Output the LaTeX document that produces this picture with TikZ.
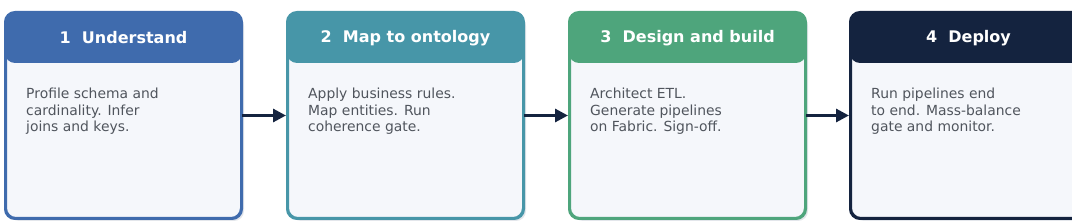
\documentclass[tikz,border=0pt]{standalone}
\usepackage{fontspec}
\setmainfont{DejaVu Sans}
\usetikzlibrary{arrows.meta,calc}
\definecolor{cA}{HTML}{3F6BAD}
\definecolor{cB}{HTML}{4796A8}
\definecolor{cC}{HTML}{4EA57C}
\definecolor{cD}{HTML}{14233F}
\definecolor{bodyfill}{HTML}{F5F7FB}
\definecolor{bodytext}{HTML}{50555D}
\definecolor{shadowc}{HTML}{E3E6EB}
\tikzset{
  stagebox/.style={draw=#1, line width=2pt, fill=bodyfill, rounded corners=10pt,
    minimum width=235pt, minimum height=205pt, inner sep=0pt},
  stagetitle/.style={text=white, font=\fontsize{16}{19}\selectfont\bfseries},
  stagebody/.style={text=bodytext, font=\fontsize{13.9}{16.5}\selectfont, align=left, anchor=north west, inner sep=0pt},
  flow/.style={draw=cD, line width=3pt, -{Triangle[length=13pt,width=13pt]}, shorten >=1pt}
}
\newcommand{\stage}[5]{%
  % #1 name, #2 x-left, #3 colour, #4 title, #5 body
  \fill[shadowc, rounded corners=10pt] (#2+4,16) rectangle (#2+239,221);
  \node[stagebox=#3, anchor=north west] (#1) at (#2,12) {};
  \fill[#3, rounded corners=10pt] (#1.north west) rectangle ($(#1.north east)+(0,51)$);
  \draw[#3, line width=2pt, rounded corners=10pt] (#1.south west) rectangle (#1.north east);
  \node[stagetitle] (#1t) at ($(#1.north)+(0,26)$) {#4};
  \node[stagebody] (#1b) at ($(#1.north west)+(21,76)$) {#5};
}
\begin{document}
\begin{tikzpicture}[x=1pt,y=-1pt]
\useasboundingbox (0,0) rectangle (1072,221);
\clip (0,0) rectangle (1072,221);
\stage{s1}{5}{cA}{1\hspace{0.7em}Understand}{Profile schema and\\cardinality. Infer\\joins and keys.}
\stage{s2}{287}{cB}{2\hspace{0.7em}Map to ontology}{Apply business rules.\\Map entities. Run\\coherence gate.}
\stage{s3}{569}{cC}{3\hspace{0.7em}Design and build}{Architect ETL.\\Generate pipelines\\on Fabric. Sign-off.}
\stage{s4}{850}{cD}{4\hspace{0.7em}Deploy}{Run pipelines end\\to end. Mass-balance\\gate and monitor.}
\draw[flow] (s1.east) -- (s2.west);
\draw[flow] (s2.east) -- (s3.west);
\draw[flow] (s3.east) -- (s4.west);
\end{tikzpicture}
\end{document}
